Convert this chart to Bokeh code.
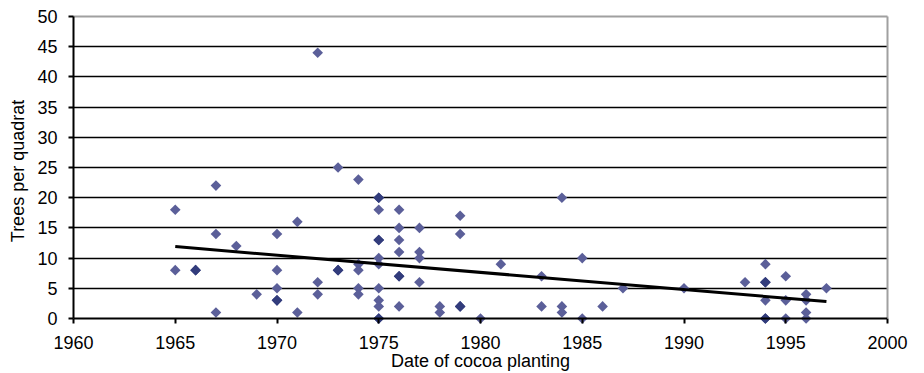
from collections import Counter
import numpy as np
from bokeh.plotting import figure
from bokeh.models import Range1d, LinearAxis, FixedTicker, Span, Grid, ColumnDataSource
from bokeh.embed import file_html
from bokeh.resources import INLINE

# ---- data ----
planting_year = [
    1965, 1965,
    1966, 1966,
    1967, 1967, 1967,
    1968,
    1969,
    1970, 1970, 1970, 1970, 1970,
    1971, 1971,
    1972, 1972, 1972,
    1973, 1973, 1973,
    1974, 1974, 1974, 1974, 1974,
    1975, 1975, 1975, 1975, 1975, 1975, 1975, 1975, 1975, 1975, 1975, 1975,
    1976, 1976, 1976, 1976, 1976, 1976, 1976,
    1977, 1977, 1977, 1977,
    1978, 1978,
    1979, 1979, 1979, 1979,
    1980,
    1981,
    1983, 1983,
    1984, 1984, 1984,
    1985, 1985,
    1986,
    1987,
    1990,
    1993,
    1994, 1994, 1994, 1994, 1994, 1994,
    1995, 1995, 1995,
    1996, 1996, 1996, 1996,
    1997,
]
trees_per_quadrat = [
    18, 8,
    8, 8,
    22, 14, 1,
    12,
    4,
    14, 8, 5, 3, 3,
    16, 1,
    44, 6, 4,
    25, 8, 8,
    23, 9, 8, 5, 4,
    20, 20, 18, 13, 13, 10, 9, 5, 3, 2, 0, 0,
    18, 15, 13, 11, 7, 7, 2,
    15, 11, 10, 6,
    2, 1,
    17, 14, 2, 2,
    0,
    9,
    7, 2,
    20, 2, 1,
    10, 0,
    2,
    5,
    5,
    6,
    9, 6, 6, 3, 0, 0,
    7, 3, 0,
    4, 3, 1, 0,
    5,
]
trend_year = [1965, 1997]
trend_trees = [11.9, 2.8]
x_ticks = [1960, 1965, 1970, 1975, 1980, 1985, 1990, 1995, 2000]
y_ticks = [0, 5, 10, 15, 20, 25, 30, 35, 40, 45, 50]
x_title = "Date of cocoa planting"
y_title = "Trees per quadrat"

# ---- styling ----
FONT = "Liberation Sans"
FS = "18px"
LIGHT = "#5b5f99"
DARK = "#323c7c"

counts = Counter(zip(planting_year, trees_per_quadrat))
colors = [DARK if counts[(x, y)] > 1 else LIGHT for x, y in zip(planting_year, trees_per_quadrat)]
src = ColumnDataSource(dict(year=planting_year, trees=trees_per_quadrat, color=colors))

p = figure(width=924, height=373, output_backend="svg", toolbar_location=None,
           x_range=Range1d(1960, 2000), y_range=Range1d(-1.16, 50),
           x_axis_type=None, y_axis_type=None,
           min_border_left=73, min_border_right=37, min_border_top=16, min_border_bottom=48)
p.outline_line_color = None
p.background_fill_color = "white"
p.border_fill_color = "white"

p.add_layout(Grid(dimension=1, ticker=FixedTicker(ticks=y_ticks[1:-1]),
                  grid_line_color="#000000", grid_line_width=1.5))

xaxis = LinearAxis(ticker=FixedTicker(ticks=x_ticks), axis_label=x_title,
                   axis_line_color=None,
                   major_tick_in=7, major_tick_out=-2, minor_tick_in=0, minor_tick_out=-2,
                   major_tick_line_color="black", major_tick_line_width=2,
                   minor_tick_line_color=None,
                   major_label_standoff=10, axis_label_standoff=-1,
                   major_label_text_font=FONT, major_label_text_font_size=FS,
                   major_label_text_color="black",
                   axis_label_text_font=FONT, axis_label_text_font_size=FS,
                   axis_label_text_font_style="normal", axis_label_text_color="black")
p.add_layout(xaxis, "below")

yaxis = LinearAxis(ticker=FixedTicker(ticks=y_ticks), bounds=(0, 50), axis_label=y_title,
                   axis_line_color="black", axis_line_width=2,
                   major_tick_in=0, major_tick_out=5, minor_tick_in=0, minor_tick_out=0,
                   major_tick_line_color="black", major_tick_line_width=2,
                   minor_tick_line_color=None,
                   major_label_standoff=11, axis_label_standoff=6,
                   major_label_text_font=FONT, major_label_text_font_size=FS,
                   major_label_text_color="black",
                   axis_label_text_font=FONT, axis_label_text_font_size=FS,
                   axis_label_text_font_style="normal", axis_label_text_color="black")
p.add_layout(yaxis, "left")

right_border = LinearAxis(ticker=FixedTicker(ticks=[]), bounds=(0, 50),
                          axis_line_color="#a0a0a0", axis_line_width=2,
                          major_tick_in=0, major_tick_out=0, minor_tick_in=0, minor_tick_out=0,
                          major_label_text_font_size="0px")
p.add_layout(right_border, "right")
top_border = LinearAxis(ticker=FixedTicker(ticks=[]),
                        axis_line_color="#a0a0a0", axis_line_width=2,
                        major_tick_in=0, major_tick_out=0, minor_tick_in=0, minor_tick_out=0,
                        major_label_text_font_size="0px")
p.add_layout(top_border, "above")

p.scatter(x="year", y="trees", source=src, marker="square", size=7.5, angle=np.pi / 4,
          fill_color="color", line_color=None)
p.line(trend_year, trend_trees, line_color="black", line_width=3)

p.add_layout(Span(location=0, dimension="width", line_color="black", line_width=2))

open("out.html", "w").write(file_html(p, INLINE))
